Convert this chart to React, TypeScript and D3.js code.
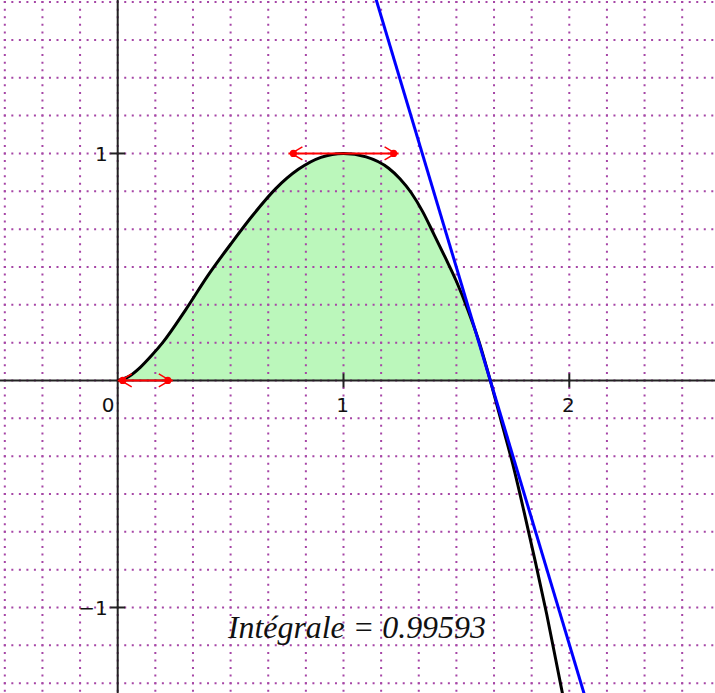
import React from "react";
import * as d3 from "d3";

const W = 715;
const H = 693;

// visible window (data units)
const xDomain = [-0.5213, 2.6453];
const yDomain = [1.676, -1.3767];

// black curve
const curveX = [0, 0.05, 0.1, 0.15, 0.2, 0.3, 0.4, 0.5, 0.6, 0.7, 0.8, 0.9, 1.0, 1.1, 1.2, 1.25, 1.3, 1.35, 1.4, 1.45, 1.5, 1.55, 1.6, 1.65, 1.7, 1.75, 1.8, 1.85, 1.9, 1.95, 1.98];
const curveY = [0, 0.018, 0.058, 0.11, 0.168, 0.31, 0.463, 0.6, 0.73, 0.845, 0.93, 0.983, 1.0, 0.985, 0.935, 0.889, 0.827, 0.745, 0.645, 0.543, 0.437, 0.313, 0.172, 0, -0.185, -0.37, -0.58, -0.8, -1.03, -1.28, -1.43];

const rootX = 1.65;
const tangentSlope = -3.32;

// tangent handles: point and extent along x
const handleX = [0, 1];
const handleY = [0, 1];
const handleFrom = [0, 0.756];
const handleTo = [0.244, 1.244];

const xTickValues = [1, 2];
const xTickLabels = ["1", "2"];
const yTickValues = [1, -1];
const yTickLabels = ["1", "\u22121"];
const originLabel = "0";
const integralText = "Int\u00e9grale = 0.99593";

const gridStep = 1 / 6;

export default function App() {
  const x = d3.scaleLinear().domain(xDomain).range([0, W]);
  const y = d3.scaleLinear().domain(yDomain).range([0, H]);

  const pts: [number, number][] = curveX.map((v, i) => [v, curveY[i]]);
  const line = d3
    .line<[number, number]>()
    .x((d) => x(d[0]))
    .y((d) => y(d[1]))
    .curve(d3.curveMonotoneX);
  const fillPts = pts.filter((d) => d[0] <= rootX + 1e-9);
  const area = d3
    .area<[number, number]>()
    .x((d) => x(d[0]))
    .y0(y(0))
    .y1((d) => y(d[1]))
    .curve(d3.curveMonotoneX);

  const vGrid = d3.range(-3, 16).map((k) => k * gridStep);
  const hGrid = d3.range(-8, 11).map((k) => k * gridStep);
  const dotH = x(1 / 30) - x(0);
  const dotV = y(0) - y(1 / 30);

  const ax = x(0);
  const ay = y(0);

  // tangent line endpoints
  const tx0 = xDomain[0];
  const tx1 = xDomain[1];
  const ty0 = tangentSlope * (tx0 - rootX);
  const ty1 = tangentSlope * (tx1 - rootX);

  const red = "#ff0000";
  const headLen = 14;
  const headW = 6.5;
  const font = "DejaVu Sans, sans-serif";

  return (
    <div style={{ position: "absolute", left: 0, top: 0, width: W, height: H, background: "#fff" }}>
      <svg width={W} height={H} style={{ display: "block" }}>
        <defs>
          <clipPath id="clip">
            <rect x={0} y={0} width={W} height={H} />
          </clipPath>
        </defs>
        <rect x={0} y={0} width={W} height={H} fill="#fff" />
        <g clipPath="url(#clip)">
          <path d={area(fillPts) || ""} fill="#bbf7bb" stroke="none" />
          {vGrid.map((g, i) => (
            <line
              key={"v" + i}
              x1={x(g)}
              x2={x(g)}
              y1={y(1.7)}
              y2={y(-1.4)}
              stroke="#a646a6"
              strokeWidth={2}
              strokeDasharray={`2 ${dotV - 2}`}
              strokeDashoffset={1}
            />
          ))}
          {hGrid.map((g, i) => (
            <line
              key={"h" + i}
              x1={x(-0.7)}
              x2={x(2.7)}
              y1={y(g)}
              y2={y(g)}
              stroke="#a646a6"
              strokeWidth={2}
              strokeDasharray={`2 ${dotH - 2}`}
              strokeDashoffset={1}
            />
          ))}
          {/* axes */}
          <line x1={0} x2={W} y1={ay} y2={ay} stroke="#222" strokeWidth={2} />
          <line x1={ax} x2={ax} y1={0} y2={H} stroke="#222" strokeWidth={2} />
          {xTickValues.map((v, i) => (
            <g key={"xt" + i}>
              <line x1={x(v)} x2={x(v)} y1={ay - 7} y2={ay + 7} stroke="#222" strokeWidth={2} />
              <text x={x(v) - 1} y={ay + 32} textAnchor="middle" fontFamily={font} fontSize={20} fill="#111">
                {xTickLabels[i]}
              </text>
            </g>
          ))}
          {yTickValues.map((v, i) => (
            <g key={"yt" + i}>
              <line x1={ax - 7.5} x2={ax + 7.5} y1={y(v)} y2={y(v)} stroke="#222" strokeWidth={2} />
              <text x={ax - 10} y={y(v) + 7.5} textAnchor="end" fontFamily={font} fontSize={20} fill="#111">
                {yTickLabels[i]}
              </text>
            </g>
          ))}
          <text x={ax - 9.5} y={ay + 32} textAnchor="middle" fontFamily={font} fontSize={20} fill="#111">
            {originLabel}
          </text>
          {/* curve */}
          <path d={line(pts) || ""} fill="none" stroke="#000" strokeWidth={3} strokeLinejoin="round" />
          {/* tangent line */}
          <line x1={x(tx0)} y1={y(ty0)} x2={x(tx1)} y2={y(ty1)} stroke="#0000ff" strokeWidth={3} />
          {/* red tangent handles */}
          {handleX.map((hx, i) => {
            const yy = y(handleY[i]);
            const a = x(handleFrom[i]);
            const b = x(handleTo[i]);
            return (
              <g key={"hd" + i} stroke={red} fill="none" strokeWidth={1.5}>
                <line x1={a} x2={b} y1={yy} y2={yy} strokeWidth={2} />
                <polyline points={`${a + headLen},${yy - headW} ${a + 3},${yy} ${a + headLen},${yy + headW}`} />
                <polyline points={`${b - headLen},${yy - headW} ${b - 3},${yy} ${b - headLen},${yy + headW}`} />
                <circle cx={a + 5} cy={yy} r={3.6} fill={red} stroke="none" />
                <circle cx={b - 5} cy={yy} r={3.6} fill={red} stroke="none" />
              </g>
            );
          })}
          <text
            x={x(0.488)}
            y={y(-1.135)}
            fontFamily="Liberation Serif, Times New Roman, serif"
            fontStyle="italic"
            fontSize={31}
            textLength={258}
            lengthAdjust="spacingAndGlyphs"
            fill="#111"
          >
            {integralText}
          </text>
        </g>
      </svg>
    </div>
  );
}
